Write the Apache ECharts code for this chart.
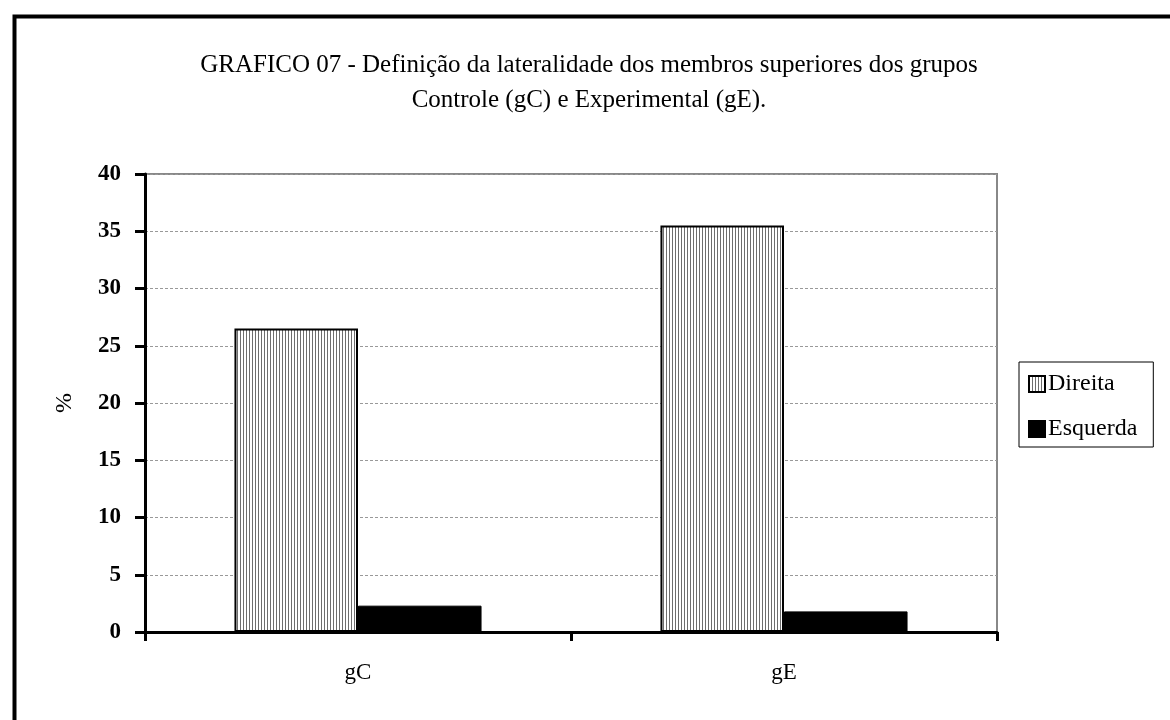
<!DOCTYPE html>
<html>
<head>
<meta charset="utf-8">
<script src="https://cdn.jsdelivr.net/npm/echarts@6/dist/echarts.min.js"></script>
<style>html,body{margin:0;padding:0;background:#fff;}#c{width:1170px;height:720px;}</style>
</head>
<body>
<div id="c"></div>
<script>
const titleLines = ['GRAFICO 07 - Definição da lateralidade dos membros superiores dos grupos', 'Controle (gC) e Experimental (gE).'];
const categories = ['gC', 'gE'];
const seriesNames = ['Direita', 'Esquerda'];
const direita = [26.5, 35.5];
const esquerda = [2.3, 1.8];
const yTicks = { min: 0, max: 40, interval: 5 };
const yName = '%';

const FONT = '"Liberation Serif", "Times New Roman", serif';

const cv = document.createElement('canvas');
cv.width = 3; cv.height = 4;
const cx = cv.getContext('2d');
cx.fillStyle = '#ffffff'; cx.fillRect(0, 0, 3, 4);
cx.fillStyle = '#6e6e6e'; cx.fillRect(0, 0, 1, 4);

const chart = echarts.init(document.getElementById('c'), null, { renderer: 'canvas' });
chart.setOption({
  backgroundColor: '#ffffff',
  animation: false,
  title: {
    text: titleLines.join('\n'),
    left: 584, top: 43, textAlign: 'center',
    textStyle: { fontFamily: FONT, fontSize: 25, fontWeight: 'normal', color: '#000', lineHeight: 35 }
  },
  graphic: [{
    type: 'rect', left: 12, top: 14, shape: { width: 1200, height: 800 },
    style: { fill: null, stroke: '#000', lineWidth: 4 }, silent: true
  }],
  legend: {
    orient: 'vertical', left: 1019, top: 362,
    padding: [10, 16, 6, 9],
    borderColor: '#000', borderWidth: 1,
    icon: 'rect',
    itemWidth: 16, itemHeight: 16, itemGap: 21,
    textStyle: { fontFamily: FONT, fontSize: 24, color: '#000', padding: [0, 0, 0, -2] },
    data: seriesNames
  },
  grid: { left: 145, right: 173, top: 174, bottom: 88, show: true, borderColor: '#888', borderWidth: 2, containLabel: false },
  xAxis: {
    type: 'category', data: categories,
    axisLine: { lineStyle: { color: '#000', width: 3 } },
    axisTick: { show: true, length: 9, lineStyle: { color: '#000', width: 3 } },
    axisLabel: { fontFamily: FONT, fontSize: 23, color: '#000', margin: 29 },
    splitLine: { show: false }
  },
  yAxis: {
    type: 'value', min: yTicks.min, max: yTicks.max, interval: yTicks.interval,
    name: yName, nameLocation: 'middle', nameGap: 68, nameRotate: 90,
    nameTextStyle: { fontFamily: FONT, fontSize: 24, color: '#000' },
    axisLine: { show: true, lineStyle: { color: '#000', width: 3 } },
    axisTick: { show: true, length: 10, lineStyle: { color: '#000', width: 3 } },
    axisLabel: { fontFamily: FONT, fontSize: 23, fontWeight: 'bold', color: '#000', margin: 24 },
    splitLine: { show: true, lineStyle: { color: '#999', type: [3, 2], width: 1 } }
  },
  series: [
    {
      name: seriesNames[0], type: 'bar', data: direita,
      barGap: '0%', barCategoryGap: '42%',
      itemStyle: { color: { image: cv, repeat: 'repeat' }, borderColor: '#000', borderWidth: 2 }
    },
    {
      name: seriesNames[1], type: 'bar', data: esquerda,
      itemStyle: { color: '#000', borderColor: '#000', borderWidth: 1 }
    }
  ]
});
</script>
</body>
</html>
